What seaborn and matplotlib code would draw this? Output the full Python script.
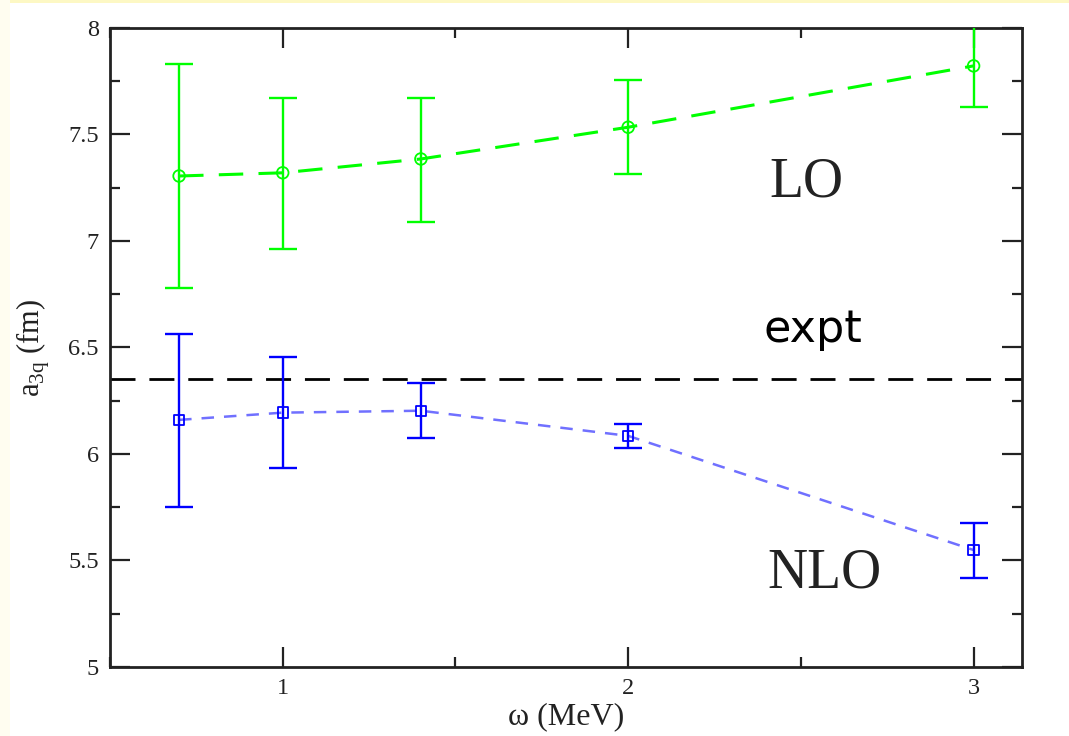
import numpy as np
import pandas as pd
import matplotlib
matplotlib.use("Agg")
import matplotlib.pyplot as plt
from matplotlib.ticker import MultipleLocator, FixedLocator
from matplotlib.patches import Rectangle
import seaborn as sns

# ---- data ----
omega = [0.7, 1.0, 1.4, 2.0, 3.0]
lo_vals = [7.305, 7.32, 7.385, 7.534, 7.822]
lo_err_lo = [0.527, 0.359, 0.295, 0.221, 0.194]
lo_err_hi = [0.525, 0.353, 0.288, 0.222, 0.194]
nlo_vals = [6.16, 6.194, 6.203, 6.085, 5.549]
nlo_err_lo = [0.41, 0.259, 0.129, 0.055, 0.13]
nlo_err_hi = [0.403, 0.26, 0.129, 0.054, 0.128]
expt_val = 6.351
y_ticks = [5, 5.5, 6, 6.5, 7, 7.5, 8]
y_ticklabels = ["5", "5.5", "6", "6.5", "7", "7.5", "8"]
x_ticks = [1, 2, 3]
x_ticklabels = ["1", "2", "3"]

sns.set_theme(style="ticks")
plt.rcParams["font.family"] = ["Liberation Serif", "DejaVu Serif"]

fig = plt.figure(figsize=(10.69, 7.36), dpi=100, facecolor="white")
# slide background hints
fig.patches.append(Rectangle((0, 0.996), 1, 0.004, transform=fig.transFigure,
                             facecolor="#fdf8c4", edgecolor="none", zorder=0))
fig.patches.append(Rectangle((0, 0), 0.009, 1, transform=fig.transFigure,
                             facecolor="#fffdf0", edgecolor="none", zorder=0))

ax = fig.add_axes([0.1029, 0.0938, 0.956 - 0.1029, 0.962 - 0.0938])
ax.set_facecolor("white")

df_lo = pd.DataFrame({"omega": omega, "a": lo_vals})
df_nlo = pd.DataFrame({"omega": omega, "a": nlo_vals})

# expt line
ax.axhline(expt_val, color="black", lw=2, dashes=(9, 5), zorder=2)

# LO
sns.lineplot(data=df_lo, x="omega", y="a", ax=ax, color="#00ff00", lw=2.2,
             dashes=False, zorder=3)
ax.lines[-1].set_dashes((8, 5))
ax.errorbar(omega, lo_vals, yerr=[lo_err_lo, lo_err_hi], fmt="none",
            ecolor="#00ff00", elinewidth=1.7, capsize=10, capthick=1.7, zorder=4)
sns.scatterplot(data=df_lo, x="omega", y="a", ax=ax, marker="o", s=70,
                facecolor="none", edgecolor="#00ff00", linewidth=1.3, zorder=5)

# NLO
sns.lineplot(data=df_nlo, x="omega", y="a", ax=ax, color="#7070ff", lw=1.8,
             dashes=False, zorder=3)
ax.lines[-1].set_dashes((5, 4))
ax.errorbar(omega, nlo_vals, yerr=[nlo_err_lo, nlo_err_hi], fmt="none",
            ecolor="#0000ff", elinewidth=1.7, capsize=10, capthick=1.7, zorder=4)
sns.scatterplot(data=df_nlo, x="omega", y="a", ax=ax, marker="s", s=55,
                facecolor="none", edgecolor="#0000ff", linewidth=1.3, zorder=5)

ax.set_xlim(0.5, 3.14)
ax.set_ylim(5, 8)

ax.xaxis.set_major_locator(FixedLocator(x_ticks))
ax.set_xticklabels(x_ticklabels)
ax.xaxis.set_minor_locator(MultipleLocator(0.5))
ax.yaxis.set_major_locator(FixedLocator(y_ticks))
ax.set_yticklabels(y_ticklabels)
ax.yaxis.set_minor_locator(MultipleLocator(0.25))

ax.tick_params(which="both", direction="in", top=True, right=True,
               color="#222222", width=1.6, labelsize=17.5, labelcolor="#222222")
ax.tick_params(which="major", length=14.5, pad=8)
ax.tick_params(which="minor", length=7.2)
for s in ax.spines.values():
    s.set_linewidth(2)
    s.set_color("#222222")
    s.set_visible(True)

ax.set_xlabel("ω (MeV)", fontsize=23, labelpad=2, color="#222222")
ax.set_ylabel(r"a$_{\mathregular{3q}}$ (fm)", fontsize=22, labelpad=12, color="#222222")

ax.text(2.515, 7.275, "LO", fontsize=40, ha="center", va="center", color="#222222")
ax.text(2.568, 5.439, "NLO", fontsize=40, ha="center", va="center", color="#222222")
ax.text(2.535, 6.526, "expt", fontsize=32, ha="center", va="baseline",
        family="DejaVu Sans", color="black")

fig.savefig("out.png", dpi=100, facecolor=fig.get_facecolor())
